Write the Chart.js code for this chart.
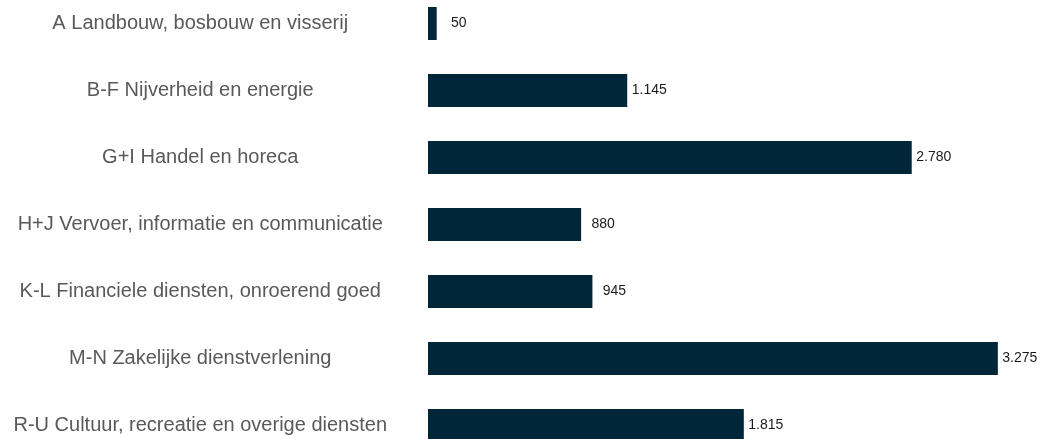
<!DOCTYPE html>
<html>
<head>
<meta charset="utf-8">
<script src="https://cdn.jsdelivr.net/npm/chart.js@4/dist/chart.umd.min.js"></script>
<style>
    html, body { margin: 0; padding: 0; background: #fff; overflow: hidden; }
    #myChart { position: absolute; left: 0; top: -10px; }
</style>
</head>
<body>
<canvas id="myChart" width="1037" height="469"></canvas>
<script>
// Data
const sectors = [
    'A Landbouw, bosbouw en visserij',
    'B-F Nijverheid en energie',
    'G+I Handel en horeca',
    'H+J Vervoer, informatie en communicatie',
    'K-L Financiele diensten, onroerend goed',
    'M-N Zakelijke dienstverlening',
    'R-U Cultuur, recreatie en overige diensten'
];
const values = [50, 1145, 2780, 880, 945, 3275, 1815];
const axisMax = 3500;

// 1145 -> "1.145"
function formatNL(v) {
    return String(v).replace(/\B(?=(\d{3})+(?!\d))/g, '.');
}

// Value labels next to bars
const valueLabels = {
    id: 'valueLabels',
    afterDatasetsDraw(chart) {
        const ctx = chart.ctx;
        const meta = chart.getDatasetMeta(0);
        ctx.save();
        ctx.font = '14px "Liberation Sans", Arial, sans-serif';
        ctx.fillStyle = '#1a1a1a';
        ctx.textAlign = 'center';
        ctx.textBaseline = 'middle';
        meta.data.forEach((bar, i) => {
            ctx.fillText(formatNL(values[i]), bar.x + 22, bar.y);
        });
        ctx.restore();
    }
};

const ctx = document.getElementById('myChart').getContext('2d');

const myChart = new Chart(ctx, {
    type: 'bar',
    data: {
        labels: sectors,
        datasets: [{
            data: values,
            backgroundColor: '#00263a',
            borderWidth: 0,
            categoryPercentage: 1,
            barPercentage: 33 / 67
        }]
    },
    options: {
        indexAxis: 'y',
        responsive: false,
        animation: false,
        layout: { padding: 0 },
        plugins: {
            legend: { display: false },
            tooltip: { enabled: false }
        },
        scales: {
            x: {
                display: false,
                min: 0,
                max: axisMax
            },
            y: {
                grid: { display: false, drawTicks: false },
                border: { display: false },
                afterFit(scale) {
                    scale.width = 428;
                    // the tick padding is only meant to push labels sideways
                    scale.paddingTop = 0;
                    scale.paddingBottom = 0;
                },
                ticks: {
                    crossAlign: 'center',
                    padding: 41,
                    color: '#595959',
                    font: { family: '"Liberation Sans", Arial, sans-serif', size: 20 }
                }
            }
        }
    },
    plugins: [valueLabels]
});
</script>
</body>
</html>
